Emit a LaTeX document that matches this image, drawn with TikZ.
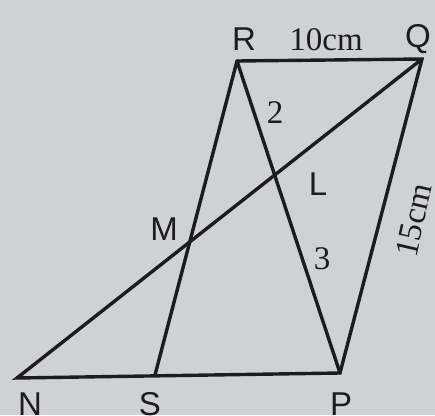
\documentclass[tikz,border=0pt]{standalone}
\usepackage{fontspec}
\setmainfont{Liberation Serif}
\newfontfamily\lblfont{Liberation Sans}
\usetikzlibrary{intersections}
\definecolor{paper}{HTML}{CDD2D6}
\definecolor{ink}{HTML}{1C1C1E}
\begin{document}
\begin{tikzpicture}[x=1pt,y=-1pt,
  edge/.style={draw=ink,line width=3.4pt,line join=miter,line cap=round},
  ptlabel/.style={text=ink,font=\lblfont\fontsize{33}{33}\selectfont,inner sep=0pt},
  numlabel/.style={text=ink,font=\fontsize{33}{33}\selectfont,inner sep=0pt}]
\fill[paper] (0,0) rectangle (435,415);
\useasboundingbox (0,0) rectangle (435,415);
\coordinate (R) at (237,61);
\coordinate (Q) at (422,59);
\coordinate (P) at (340,373);
\coordinate (N) at (17,378);
\coordinate (S) at (155,375);
\path[name path=nq] (N) -- (Q);
\path[name path=rs] (R) -- (S);
\path[name path=rp] (R) -- (P);
\path[name intersections={of=nq and rs,by=M}];
\path[name intersections={of=nq and rp,by=L}];
\draw[edge] (R) -- (Q) -- (P) -- (N) -- (Q);
\draw[edge] (R) -- (S);
\draw[edge] (R) -- (P);
\node[ptlabel] (lR) at (244,39) {R};
\node[numlabel] (l10) at (326,40) {10cm};
\node[ptlabel] (lQ) at (418,39) {Q};
\node[numlabel] (l2) at (275,113) {2};
\node[ptlabel] (lL) at (318,184) {L};
\node[ptlabel] (lM) at (164,229) {M};
\node[numlabel] (l3) at (322,259) {3};
\node[numlabel,rotate=77] (l15) at (414,220) {15cm};
\node[ptlabel] (lN) at (30,404) {N};
\node[ptlabel] (lS) at (150,404) {S};
\node[ptlabel] (lP) at (341,404) {P};
\end{tikzpicture}
\end{document}
